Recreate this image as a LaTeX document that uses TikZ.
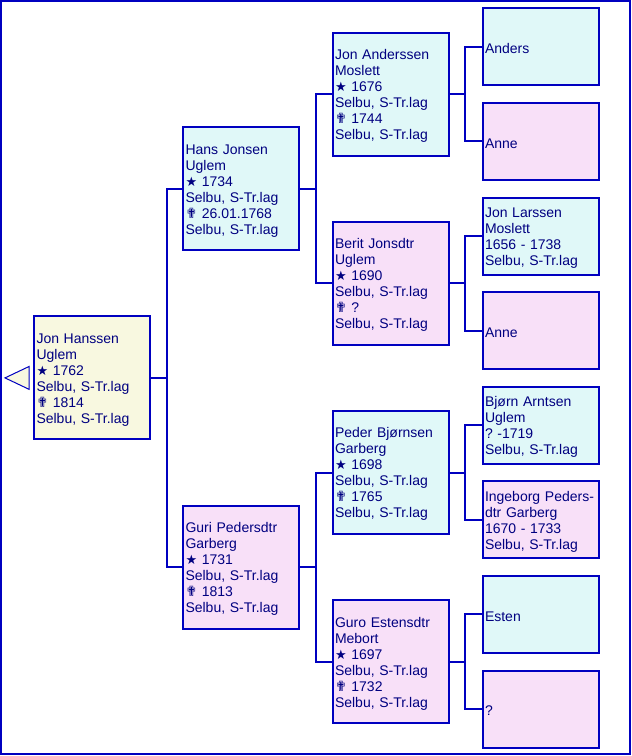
\documentclass[tikz,border=0pt]{standalone}
\usepackage{fontspec}
\setmainfont{Liberation Sans}
\newfontfamily\symfont{DejaVu Sans}
\newcommand\bstar{{\symfont\fontsize{13}{16}\selectfont ★}}
\newcommand\dcross{{\symfont\fontsize{14}{16}\selectfont ✟}}
\definecolor{lineblue}{RGB}{0,0,192}
\definecolor{textblue}{RGB}{0,0,128}
\definecolor{mcyan}{RGB}{224,248,248}
\definecolor{fpink}{RGB}{248,224,248}
\definecolor{rbeige}{RGB}{248,248,224}
\tikzset{
  person/.style={draw=lineblue, line width=2pt, anchor=west, align=left,
    text width=111pt, inner xsep=2.5pt, inner ysep=0pt, outer sep=0pt,
    minimum height=123pt, font=\fontsize{14}{16}\selectfont, text=textblue,
    execute at begin node={\rule{0pt}{13.5pt}}},
  small/.style={person, minimum height=77pt},
  male/.style={fill=mcyan},
  female/.style={fill=fpink},
  rootp/.style={fill=rbeige},
  conn/.style={draw=lineblue, line width=2pt},
}
\begin{document}
\begin{tikzpicture}[x=1pt,y=-1pt]
\useasboundingbox (0,0) rectangle (632,756);
\draw[lineblue, line width=2pt] (1,1) rectangle (630,754.3);

% generation 1
\node[person, rootp] (root) at (34,377.9) {Jon Hanssen\\Uglem\\\bstar\ 1762\\Selbu, S-Tr.lag\\\dcross\ 1814\\Selbu, S-Tr.lag};
\draw[lineblue, line width=1pt, fill=rbeige] (29,366.5) -- (5,377.9) -- (29,389.3) -- cycle;

% generation 2
\node[person, male] (f) at (183,188.7) {Hans Jonsen\\Uglem\\\bstar\ 1734\\Selbu, S-Tr.lag\\\dcross\ 26.01.1768\\Selbu, S-Tr.lag};
\node[person, female] (m) at (183,567.1) {Guri Pedersdtr\\Garberg\\\bstar\ 1731\\Selbu, S-Tr.lag\\\dcross\ 1813\\Selbu, S-Tr.lag};

% generation 3
\node[person, male] (ff) at (332.5,94.1) {Jon Anderssen\\Moslett\\\bstar\ 1676\\Selbu, S-Tr.lag\\\dcross\ 1744\\Selbu, S-Tr.lag};
\node[person, female] (fm) at (332.5,283.3) {Berit Jonsdtr\\Uglem\\\bstar\ 1690\\Selbu, S-Tr.lag\\\dcross\ ?\\Selbu, S-Tr.lag};
\node[person, male] (mf) at (332.5,472.5) {Peder Bjørnsen\\Garberg\\\bstar\ 1698\\Selbu, S-Tr.lag\\\dcross\ 1765\\Selbu, S-Tr.lag};
\node[person, female] (mm) at (332.5,661.7) {Guro Estensdtr\\Mebort\\\bstar\ 1697\\Selbu, S-Tr.lag\\\dcross\ 1732\\Selbu, S-Tr.lag};

% generation 4
\node[small, male] (fff) at (482.5,46.8) {Anders};
\node[small, female] (ffm) at (482.5,141.4) {Anne};
\node[small, male] (fmf) at (482.5,236.0) {Jon Larssen\\Moslett\\1656 - 1738\\Selbu, S-Tr.lag};
\node[small, female] (fmm) at (482.5,330.6) {Anne};
\node[small, male] (mff) at (482.5,425.2) {Bjørn Arntsen\\Uglem\\?~-1719\\Selbu, S-Tr.lag};
\node[small, female] (mfm) at (482.5,519.8) {Ingeborg Peders-\\dtr Garberg\\1670 - 1733\\Selbu, S-Tr.lag};
\node[small, male] (mmf) at (482.5,614.4) {Esten};
\node[small, female] (mmm) at (482.5,709.0) {?};

% connectors
\draw[conn] (root.east) -- ++(17,0);
\draw[conn] (f.west) -- ++(-16,0) |- (m.west);
\draw[conn] (f.east) -- ++(16,0);
\draw[conn] (ff.west) -- ++(-16.5,0) |- (fm.west);
\draw[conn] (m.east) -- ++(16,0);
\draw[conn] (mf.west) -- ++(-16.5,0) |- (mm.west);
\draw[conn] (ff.east) -- ++(16.5,0);
\draw[conn] (fff.west) -- ++(-17.5,0) |- (ffm.west);
\draw[conn] (fm.east) -- ++(16.5,0);
\draw[conn] (fmf.west) -- ++(-17.5,0) |- (fmm.west);
\draw[conn] (mf.east) -- ++(16.5,0);
\draw[conn] (mff.west) -- ++(-17.5,0) |- (mfm.west);
\draw[conn] (mm.east) -- ++(16.5,0);
\draw[conn] (mmf.west) -- ++(-17.5,0) |- (mmm.west);
\end{tikzpicture}
\end{document}
